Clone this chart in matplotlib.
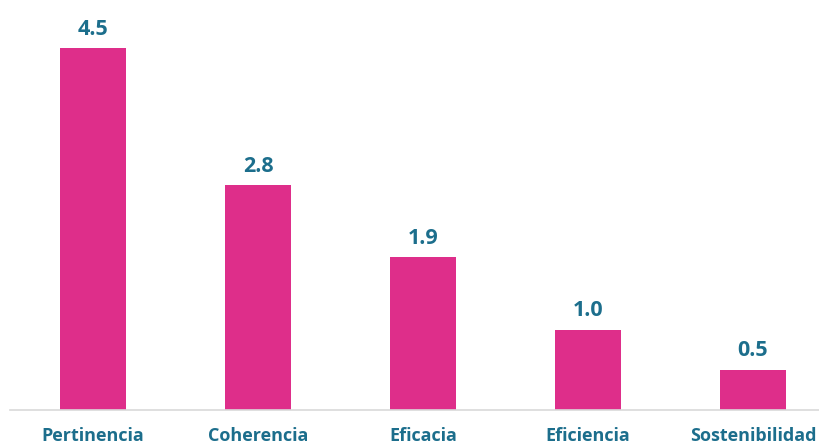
import matplotlib.pyplot as plt

categorias = ["Pertinencia", "Coherencia", "Eficacia", "Eficiencia", "Sostenibilidad"]
valores = [4.5, 2.8, 1.9, 1.0, 0.5]

color_barra = "#DE2E8A"
color_texto = "#1C6E8C"

fig = plt.figure(figsize=(8.2, 4.45), dpi=100)
ax = fig.add_axes([10 / 820, 35 / 445, 810 / 820, 410 / 445])

x = range(len(categorias))
bars = ax.bar(x, valores, width=0.4, color=color_barra)

for b, v in zip(bars, valores):
    ax.annotate(f"{v:.1f}", (b.get_x() + b.get_width() / 2, v), xytext=(0, 6),
                textcoords="offset points", ha="center", va="bottom",
                fontsize=15.5, fontweight="bold", color=color_texto, family="Open Sans")

ax.set_xlim(-0.503, 4.406)
ax.set_ylim(0, 5.1)
ax.set_xticks(list(x))
ax.set_xticklabels(categorias, fontsize=13, fontweight="bold", color=color_texto, family="Open Sans")
ax.tick_params(axis="x", length=0, pad=12)
ax.set_yticks([])
for s in ["top", "right", "left"]:
    ax.spines[s].set_visible(False)
ax.spines["bottom"].set_color("#D9D9D9")
ax.spines["bottom"].set_linewidth(1.2)

fig.savefig("out.png", dpi=100)
